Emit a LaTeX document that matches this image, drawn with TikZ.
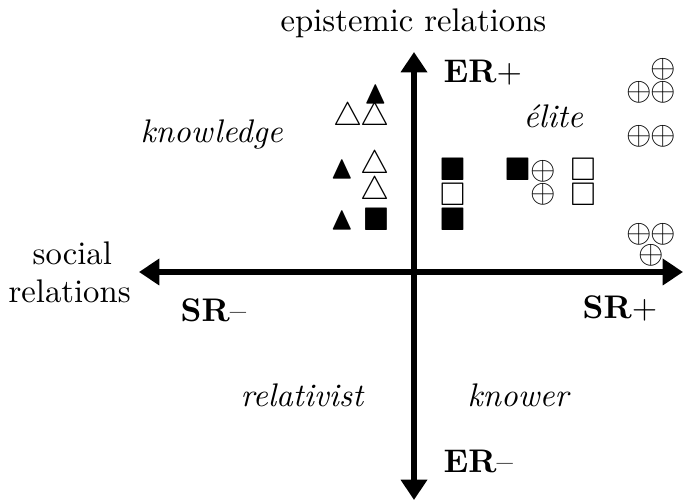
\documentclass[tikz,border=0pt]{standalone}
\usepackage{fontspec}
\usepackage{amssymb}
\usetikzlibrary{arrows.meta}
\begin{document}
\begin{tikzpicture}[x=0.3058pt,y=-0.3058pt,
  lbl/.style={inner sep=0pt,anchor=base west},
  mk/.style={inner sep=0pt,anchor=center},
  axis/.style={line width=1.85pt,{Triangle[width=7.8pt,length=6.2pt]}-{Triangle[width=7.8pt,length=6.2pt]}}]
\useasboundingbox (0,0) rectangle (683,501);
% axes
\coordinate (top) at (414,52);
\coordinate (bot) at (414,500);
\coordinate (lft) at (139,272);
\coordinate (rgt) at (683,272);
\draw[axis] (bot) -- (top);
\draw[axis] (lft) -- (rgt);
% labels
\node[lbl] (ep) at (280,32) {epistemic relations};
\node[lbl] (erp) at (443,83) {\textbf{ER}$+$};
\node[lbl] (erm) at (443,473) {\textbf{ER}--};
\node[lbl] (srm) at (180,322) {\textbf{SR}--};
\node[lbl] (srp) at (582,319) {\textbf{SR}$+$};
\node[lbl] (soc) at (32,265) {social};
\node[lbl] (rel) at (8,303) {relations};
\node[lbl] (kn) at (140,143) {\itshape knowledge};
\node[lbl] (el) at (523,128) {\itshape élite};
\node[lbl] (rv) at (240,407) {\itshape relativist};
\node[lbl] (kw) at (467,407) {\itshape knower};
% triangles
\node[mk] (t1) at (375.5,94.5) {$\blacktriangle$};
\node[mk] (t2) at (348.5,117) {$\triangle$};
\node[mk] (t3) at (375.5,117) {$\triangle$};
\node[mk] (t4) at (342,169.5) {$\blacktriangle$};
\node[mk] (t5) at (375.5,165) {$\triangle$};
\node[mk] (t6) at (375.5,191.5) {$\triangle$};
\node[mk] (t7) at (342,221) {$\blacktriangle$};
\node[mk] (s1) at (376,219.5) {$\blacksquare$};
% squares
\node[mk] (s2) at (452.5,169.5) {$\blacksquare$};
\node[mk] (s3) at (452.5,194) {$\square$};
\node[mk] (s4) at (452.5,219.5) {$\blacksquare$};
\node[mk] (s5) at (517.5,169.5) {$\blacksquare$};
\node[mk] (o1) at (543,171) {$\oplus$};
\node[mk] (s6) at (583,169.5) {$\square$};
\node[mk] (o2) at (543,194) {$\oplus$};
\node[mk] (s7) at (583,194) {$\square$};
% right column
\node[mk] (o3) at (663,69.5) {$\oplus$};
\node[mk] (o4) at (639,92.5) {$\oplus$};
\node[mk] (o5) at (663,92.5) {$\oplus$};
\node[mk] (o6) at (639,136) {$\oplus$};
\node[mk] (o7) at (663,136) {$\oplus$};
\node[mk] (o8) at (639,234) {$\oplus$};
\node[mk] (o9) at (663,234) {$\oplus$};
\node[mk] (o10) at (651,255) {$\oplus$};
\end{tikzpicture}
\end{document}
